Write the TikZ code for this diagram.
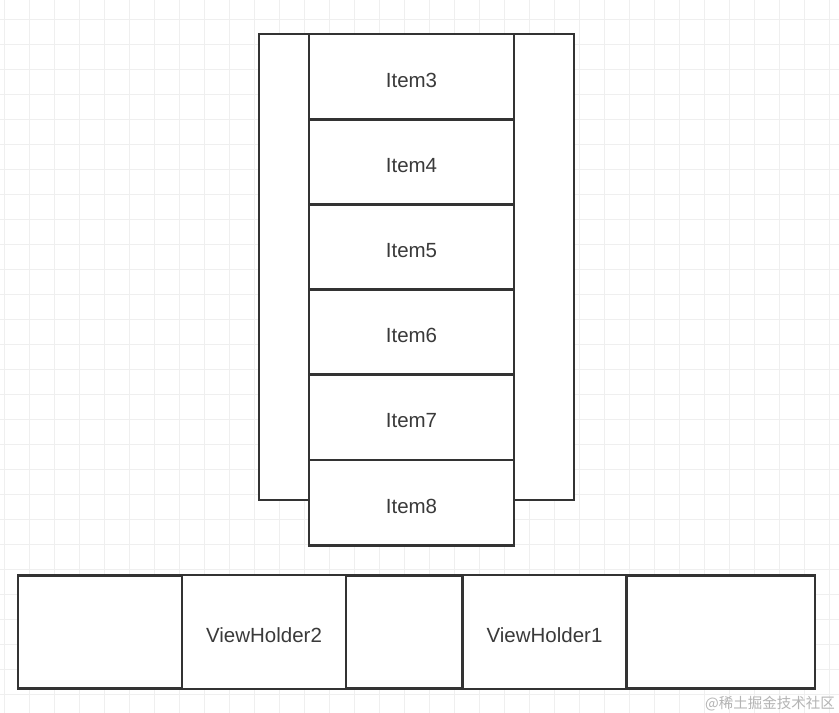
\documentclass[tikz,border=0pt]{standalone}
\usepackage{fontspec}
\setmainfont{Liberation Sans}
\newfontfamily\cjk{Noto Sans CJK SC}
\definecolor{edge}{HTML}{333333}
\definecolor{txt}{HTML}{3A3A3A}
\definecolor{gridc}{HTML}{EFEFEF}
\definecolor{wm}{HTML}{B4B4B4}
\begin{document}
\begin{tikzpicture}[x=1pt,y=-1pt,
  box/.style={draw=edge,fill=white,line width=2.9pt,rectangle,inner sep=0pt,
    font=\fontsize{20.5}{24}\selectfont,text=txt,text height=21pt,text depth=0pt},
  itembox/.style={box,minimum width=205pt,minimum height=85.2pt},
  vhbox/.style={box,minimum width=164pt,minimum height=114pt}]
\useasboundingbox (0,0) rectangle (839,713);
\fill[white] (0,0) rectangle (839,713);
% grid
\foreach \i in {0,...,33} {\draw[gridc,line width=0.9pt] (4.3+25*\i,0) -- (4.3+25*\i,713);}
\foreach \j in {0,...,28} {\draw[gridc,line width=0.9pt] (0,19+25*\j) -- (839,19+25*\j);}
% tall outer frame
\node[box,minimum width=315pt,minimum height=466pt] (frame) at (416.5,267) {};
% items
\foreach \n [count=\k from 0] in {3,...,8} {
  \node[itembox] (item\n) at (411.5,76.6+85.2*\k) {Item\n};
}
% bottom strip
\node[box,minimum width=797pt,minimum height=113pt] (strip) at (416.5,632) {};
\node[vhbox] (vh2) at (264,632) {ViewHolder2};
\node[vhbox] (vh1) at (544.5,632) {ViewHolder1};
% watermark
\node[anchor=east,text=wm,inner sep=0pt,font=\cjk\fontsize{14.5}{16}\selectfont] (wmark) at (835,704) {@稀土掘金技术社区};
\end{tikzpicture}
\end{document}
